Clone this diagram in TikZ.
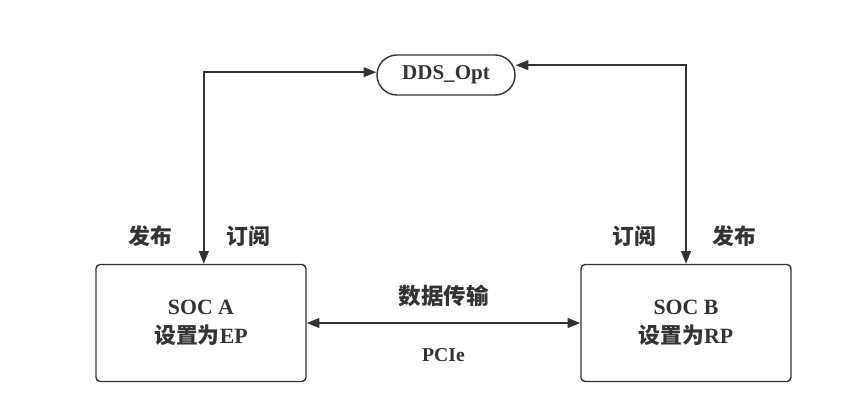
\documentclass[tikz,border=0pt]{standalone}
\usepackage{fontspec}
\setmainfont{Liberation Serif}
\newfontfamily\cjk{Noto Sans CJK SC}
\usetikzlibrary{arrows.meta,positioning}
\definecolor{ink}{HTML}{333333}

\begin{document}
\begin{tikzpicture}[x=0.025cm, y=-0.025cm,
  soc/.style={draw=ink, line width=1pt, rounded corners=3pt,
    minimum width=5.25cm, minimum height=2.925cm, align=center, text=ink,
    font=\bfseries\fontsize{15.5}{21}\selectfont},
  pill/.style={draw=ink, line width=1pt, rounded corners=0.5cm,
    minimum width=3.45cm, minimum height=1cm, text=ink,
    font=\bfseries\fontsize{15}{18}\selectfont},
  lbl/.style={font=\cjk\bfseries\fontsize{15.5}{18}\selectfont, text=ink},
  link/.style={draw=ink, line width=1pt,
    {Triangle[length=9pt,width=7pt]}-{Triangle[length=9pt,width=7pt]}}]
\useasboundingbox (0,0) rectangle (862,400);
\node[pill] (dds) at (446,75) {DDS\_Opt};
\node[soc] (soca) at (201,323) {SOC A\\{\cjk 设置为}EP};
\node[soc] (socb) at (686,323) {SOC B\\{\cjk 设置为}RP};
% publish / subscribe links
\draw[link] ([yshift=2pt]dds.west) -| ([xshift=2pt]soca.north);
\draw[link] ([yshift=7pt]dds.east) -| (socb.north);
\node[lbl] (pubA) at (150,236) {发布};
\node[lbl] (subA) at (248,236) {订阅};
\node[lbl] (subB) at (634,236) {订阅};
\node[lbl] (pubB) at (734,236) {发布};
% data path
\draw[link] (soca) -- (socb)
  node[midway, above=8pt, lbl, font=\cjk\bfseries\fontsize{16}{18}\selectfont]
  (data) {数据传输}
  node[midway, below=14pt, font=\bfseries\fontsize{14}{17}\selectfont, text=ink]
  (pcie) {PCIe};
\end{tikzpicture}
\end{document}
